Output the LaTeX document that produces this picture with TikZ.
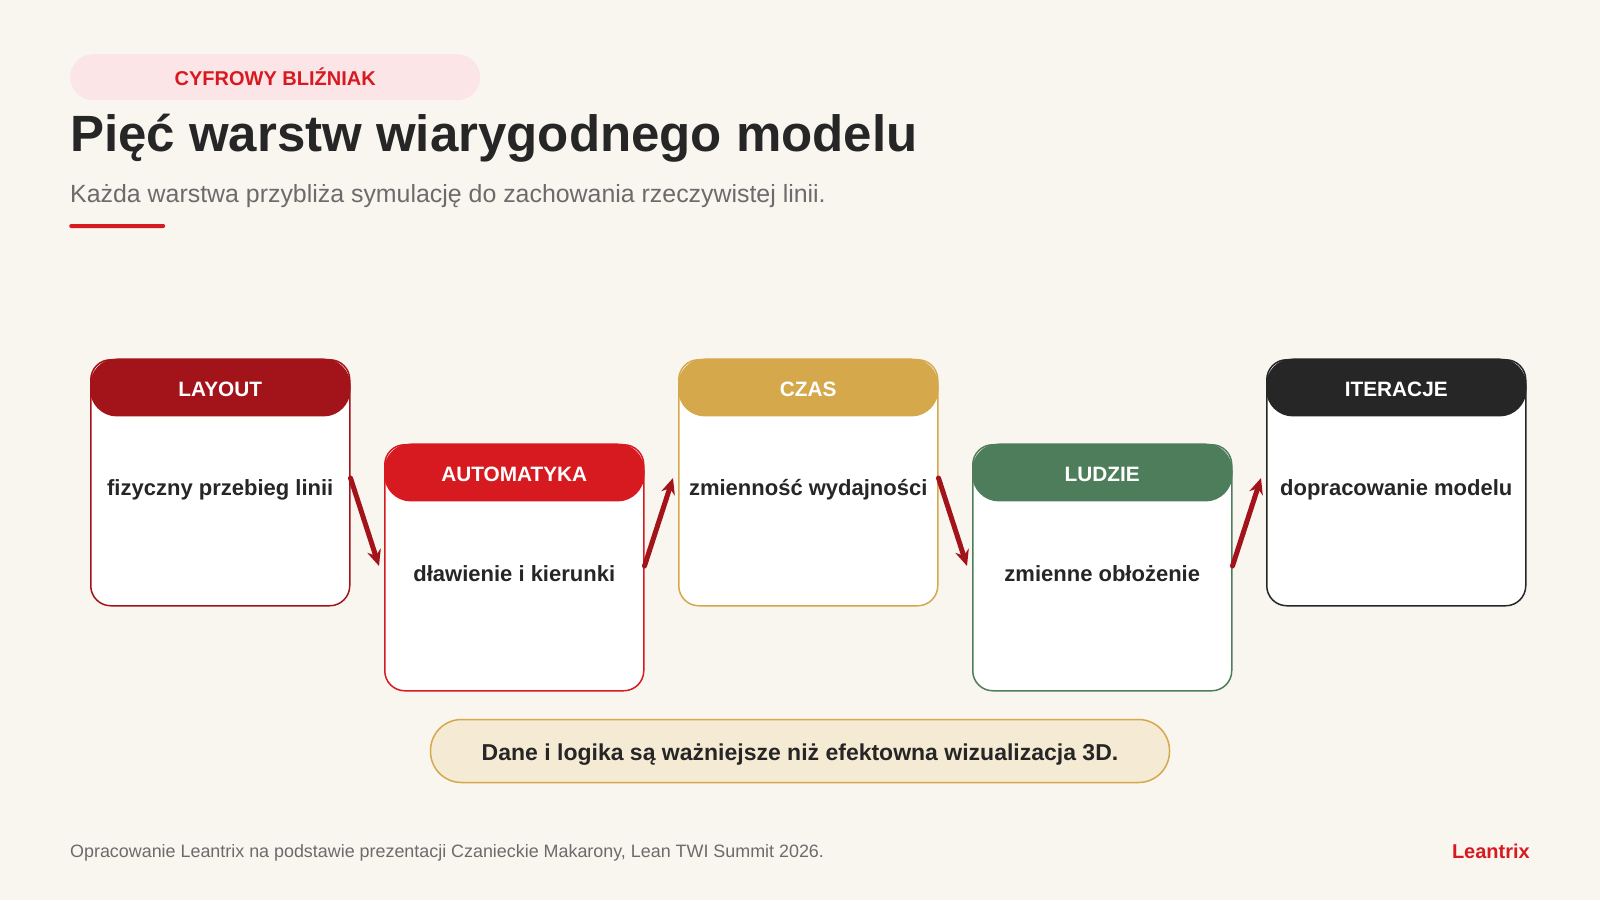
\documentclass[tikz,border=0pt]{standalone}
\usepackage{fontspec}
\setmainfont{Liberation Sans}
\usetikzlibrary{arrows.meta}

\definecolor{pagebg}{HTML}{F9F6F0}
\definecolor{tagpink}{HTML}{FCE5E6}
\definecolor{accentred}{HTML}{D71920}
\definecolor{darkred}{HTML}{A3131A}
\definecolor{gold}{HTML}{D4A84B}
\definecolor{sage}{HTML}{4E7D5C}
\definecolor{ink}{HTML}{262626}
\definecolor{mutedgray}{HTML}{6B6B6B}
\definecolor{cream}{HTML}{F5EAD3}

\begin{document}
\begin{tikzpicture}[x=1pt, y=-1pt,
            card/.style={
                draw,
                fill=white,
                line width=1.5pt,
                rounded corners=20pt,
                minimum width=259pt,
                minimum height=246pt,
                inner sep=0pt,
                anchor=north west
            },
            cardhead/.style={
                text=white,
                rounded corners=27pt,
                minimum width=260.5pt,
                minimum height=58pt,
                inner sep=0pt,
                text height=19pt,
                text depth=0pt,
                anchor=north,
                font=\fontsize{20.8}{25}\selectfont\bfseries
            },
            cardtext/.style={
                text=ink,
                inner sep=0pt,
                font=\fontsize{22}{26}\selectfont\bfseries
            },
            flow/.style={
                draw=darkred,
                line width=5pt,
                line cap=round,
                -{Stealth[length=16pt,width=14pt]}
            }
        ]

        % Page
        \fill[pagebg] (0,0) rectangle (1600,900);
        \useasboundingbox (0,0) rectangle (1600,900);

        % Header block
        \node[fill=tagpink,
            rounded corners=23pt,
            minimum width=410pt,
            minimum height=46pt,
            anchor=north west,
            text=accentred,
            font=\fontsize{20}{24}\selectfont\bfseries
        ] (tag) at (70,54) {CYFROWY BLIŹNIAK};

        \node[anchor=base west, inner sep=0pt, text=ink,
            font=\fontsize{51}{60}\selectfont\bfseries]
            (title) at (70,151) {Pięć warstw wiarygodnego modelu};

        \node[anchor=base west, inner sep=0pt, text=mutedgray,
            font=\fontsize{24.9}{30}\selectfont]
            (subtitle) at (70,202) {Każda warstwa przybliża symulację do zachowania rzeczywistej linii.};

        \node[fill=accentred, rounded corners=2pt,
            minimum width=96pt, minimum height=4pt, inner sep=0pt,
            anchor=west] (rule) at (69,226) {};

        % Layer 1: LAYOUT
        \node[card, draw=darkred] (layout) at (90,359) {};
        \node[cardhead, fill=darkred] (layouthead) at ([yshift=0.75pt] layout.north) {LAYOUT};
        \node[cardtext] (layouttext) at ([yshift=-131pt] layout.north) {fizyczny przebieg linii};

        % Layer 2: AUTOMATYKA
        \node[card, draw=accentred] (automatyka) at (384,444) {};
        \node[cardhead, fill=accentred] (automatykahead) at ([yshift=0.75pt] automatyka.north) {AUTOMATYKA};
        \node[cardtext] (automatykatext) at ([yshift=-130pt] automatyka.north) {dławienie i kierunki};

        % Layer 3: CZAS
        \node[card, draw=gold] (czas) at (678,359) {};
        \node[cardhead, fill=gold] (czashead) at ([yshift=0.75pt] czas.north) {CZAS};
        \node[cardtext] (czastext) at ([yshift=-131pt] czas.north) {zmienność wydajności};

        % Layer 4: LUDZIE
        \node[card, draw=sage] (ludzie) at (972,444) {};
        \node[cardhead, fill=sage] (ludziehead) at ([yshift=0.75pt] ludzie.north) {LUDZIE};
        \node[cardtext] (ludzietext) at ([yshift=-130pt] ludzie.north) {zmienne obłożenie};

        % Layer 5: ITERACJE
        \node[card, draw=ink] (iteracje) at (1266,359) {};
        \node[cardhead, fill=ink] (iteracjehead) at ([yshift=0.75pt] iteracje.north) {ITERACJE};
        \node[cardtext] (iteracjetext) at ([yshift=-131pt] iteracje.north) {dopracowanie modelu};

        % Zigzag arrows
        \draw[flow] ([yshift=-119pt] layout.north east) -- ([xshift=-5pt, yshift=-122pt] automatyka.north west);
        \draw[flow] ([yshift=-122pt] automatyka.north east) -- ([xshift=-5pt, yshift=-119pt] czas.north west);
        \draw[flow] ([yshift=-119pt] czas.north east) -- ([xshift=-5pt, yshift=-122pt] ludzie.north west);
        \draw[flow] ([yshift=-122pt] ludzie.north east) -- ([xshift=-5pt, yshift=-119pt] iteracje.north west);

        % Key message
        \node[fill=cream, draw=gold, line width=1.5pt,
            rounded corners=31pt,
            minimum width=739pt,
            minimum height=63pt,
            text height=18.5pt,
            text depth=0pt,
            text=ink,
            font=\fontsize{23}{27}\selectfont\bfseries
        ] (message) at (800,751) {Dane i logika są ważniejsze niż efektowna wizualizacja 3D.};

        % Footer
        \node[anchor=base west, inner sep=0pt, text=mutedgray,
            font=\fontsize{17.9}{22}\selectfont]
            (source) at (70,857) {Opracowanie Leantrix na podstawie prezentacji Czanieckie Makarony, Lean TWI Summit 2026.};

        \node[anchor=base east, inner sep=0pt, text=accentred,
            font=\fontsize{20}{24}\selectfont\bfseries]
            (brand) at (1530,858) {Leantrix};
        \end{tikzpicture}
\end{document}
